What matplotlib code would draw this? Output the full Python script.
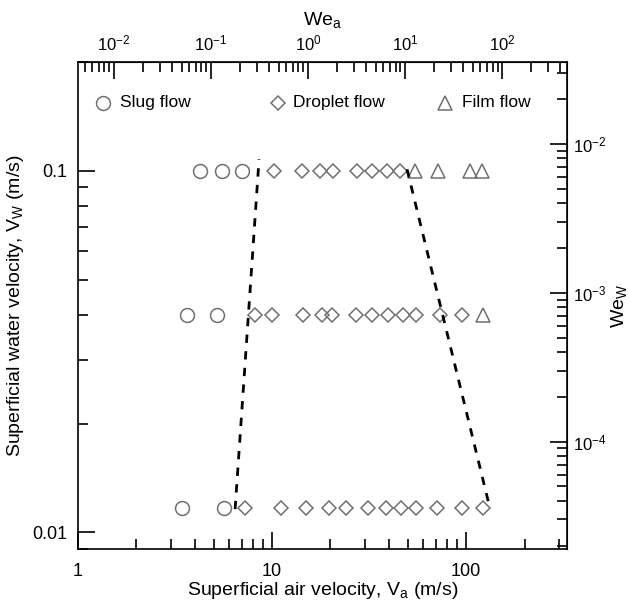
import numpy as np
import matplotlib
matplotlib.use('Agg')
from matplotlib import pyplot as plt
from matplotlib.ticker import FixedLocator, FuncFormatter

plt.rcParams['font.family'] = ['Liberation Sans', 'DejaVu Sans']
plt.rcParams['mathtext.fontset'] = 'custom'
plt.rcParams['mathtext.rm'] = 'Liberation Sans'
plt.rcParams['axes.unicode_minus'] = False

# superficial water velocity of each row (m/s)
vw_rows = [0.1, 0.04, 0.0117]

# superficial air velocity (m/s) for each regime, per row
slug_va = [[4.25, 5.50, 6.98],
           [3.63, 5.19],
           [3.44, 5.66]]
droplet_va = [[10.2, 14.2, 17.7, 20.7, 27.3, 32.6, 39.0, 45.7],
              [8.17, 9.96, 14.5, 18.0, 20.3, 27.1, 32.6, 39.4, 47.3, 55.2, 73.5, 95.0],
              [7.26, 11.1, 15.0, 19.7, 24.1, 31.2, 38.7, 46.2, 55.2, 70.9, 95.3, 122.3]]
film_va = [[54.6, 72.0, 104.9, 120.5],
           [121.6],
           []]

# transition boundaries (dashed)
bound1_va = [6.45, 8.57]
bound1_vw = [0.0116, 0.1076]
bound2_va = [49.6, 133.0]
bound2_vw = [0.101, 0.0116]

labels = ['Slug flow', 'Droplet flow', 'Film flow']

gray = '#707070'
styles = [('o', 10), ('D', 7.5), ('^', 10)]

fig = plt.figure(figsize=(6.30, 6.02), dpi=100)
ax = fig.add_axes([78 / 630, 1 - 549 / 602, (567 - 78) / 630, (549 - 62) / 602])

for data, (mk, ms) in zip([slug_va, droplet_va, film_va], styles):
    for vw, vas in zip(vw_rows, data):
        if len(vas) == 0:
            continue
        ax.plot(vas, [vw] * len(vas), linestyle='none', marker=mk, ms=ms,
                mfc='none', mec=gray, mew=1.1)

ax.plot(bound1_va, bound1_vw, 'k--', lw=2, dashes=(3, 3))
ax.plot(bound2_va, bound2_vw, 'k--', lw=2, dashes=(3, 3))

ax.set_xscale('log')
ax.set_yscale('log')
ax.set_xlim(1, 331)
ax.set_ylim(0.009, 0.2)
ax.set_xticks([1, 10, 100])
ax.set_xticklabels(['1', '10', '100'])
ax.set_yticks([0.01, 0.1])
ax.set_yticklabels(['0.01', '0.1'])
ax.tick_params(which='both', direction='in', top=False, right=False, labelsize=13)
ax.tick_params(axis='x', which='major', pad=10)
ax.tick_params(axis='y', which='major', pad=8)
ax.tick_params(which='major', length=12, width=1.2)
ax.tick_params(which='minor', length=7, width=1.2)
for s in ax.spines.values():
    s.set_linewidth(1.2)

ax.set_xlabel(r'Superficial air velocity, V$_\mathregular{a}$ (m/s)', fontsize=14, labelpad=0)
ax.set_ylabel(r'Superficial water velocity, V$_\mathregular{W}$ (m/s)', fontsize=14, labelpad=4)

sci = FuncFormatter(lambda v, p: r'$\mathregular{10^{%d}}$' % round(np.log10(v)))

# top axis: Weber number of air
va0 = 15.3
top = ax.secondary_xaxis('top', functions=(lambda v: (np.asarray(v) / va0) ** 2,
                                           lambda w: va0 * np.sqrt(np.abs(w))))
top.set_xscale('log')
top.xaxis.set_major_locator(FixedLocator([1e-2, 1e-1, 1, 1e1, 1e2]))
top.xaxis.set_major_formatter(sci)
top.tick_params(which='both', direction='in', labelsize=12)
top.tick_params(which='major', length=12, width=1.2, pad=6)
top.tick_params(which='minor', length=7, width=1.2)
top.set_xlabel(r'We$_\mathregular{a}$', fontsize=14, labelpad=6)

# right axis: Weber number of water
b = 2.43
c = -1.337
right = ax.secondary_yaxis('right', functions=(
    lambda v: 10 ** (-3 + b * (np.log10(np.clip(v, 1e-12, None)) - c)),
    lambda w: 10 ** (c + (np.log10(np.clip(w, 1e-30, None)) + 3) / b)))
right.set_yscale('log')
right.yaxis.set_major_locator(FixedLocator([1e-4, 1e-3, 1e-2]))
right.yaxis.set_major_formatter(sci)
right.tick_params(which='both', direction='in', labelsize=12)
right.tick_params(which='major', length=12, width=1.2, pad=4)
right.tick_params(which='minor', length=7, width=1.2)
wl = right.set_ylabel(r'We$_\mathregular{W}$', fontsize=14)
right.yaxis.set_label_coords(1.108, 0.5, transform=ax.transAxes)
wl.set_verticalalignment('center')

# legend row, drawn by hand
leg_marker_x = [0.051, 0.409, 0.75]
leg_text_x = [0.086, 0.44, 0.785]
leg_y = 0.916
for (mk, ms), mx, tx, lab in zip(styles, leg_marker_x, leg_text_x, labels):
    ax.plot([mx], [leg_y], transform=ax.transAxes, ls='none', marker=mk, ms=ms,
            mfc='none', mec=gray, mew=1.1, clip_on=False)
    ax.text(tx, leg_y, lab, transform=ax.transAxes, fontsize=12.5, va='center', ha='left')

fig.savefig('out.png', dpi=100)
